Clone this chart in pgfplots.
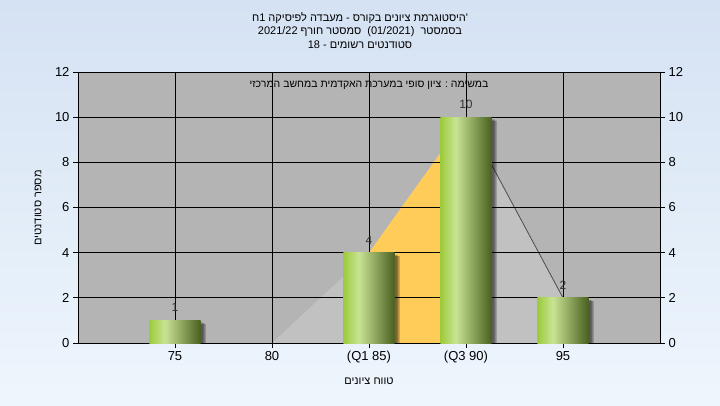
\documentclass[border=0pt]{standalone}
\usepackage{pgfplots}
\pgfplotsset{compat=1.18}
\usepackage{fontspec}
\setmainfont{Liberation Sans}
\newfontfamily\heb[Script=Hebrew]{Liberation Sans}
\TeXXeTstate=1
\definecolor{bgtop}{HTML}{D5E2F3}
\definecolor{bgbot}{HTML}{EEF6FD}
\definecolor{plotgray}{HTML}{B4B4B4}
\definecolor{areagray}{HTML}{C1C1C1}
\definecolor{areaorange}{HTML}{FFCC5A}
\definecolor{barA}{HTML}{9DCB3C}
\definecolor{barB}{HTML}{C9E394}
\definecolor{barC}{HTML}{4A6020}
\pgfdeclarehorizontalshading{barshade}{100bp}{color(0bp)=(barA); color(25bp)=(barA); color(40bp)=(barB); color(75bp)=(barC); color(100bp)=(barC)}
\begin{document}
\begin{tikzpicture}[x=1pt,y=1pt]
\shade[top color=bgtop, bottom color=bgbot] (0,0) rectangle (720,405);
\pgfplotsset{common/.style={scale only axis, width=582pt, height=271pt,
  at={(78pt,62pt)}, anchor=south west,
  xmin=-1, xmax=5, ymin=0, ymax=12, ytick={0,2,...,12}, xtick={0,...,4},
  tick align=outside, major tick length=5pt,
  axis line style={black, line width=0.9pt},
  tick style={black, line width=0.9pt},
  ticklabel style={font=\fontsize{13}{15}\selectfont},
  /pgf/number format/assume math mode=true},
  gbar/.style={ybar, bar width=51pt, bar shift=0pt, shade, shading=barshade, draw=none,
  nodes near coords, nodes near coords style={font=\fontsize{12}{14}\selectfont, text=black!80, anchor=south, yshift=5pt}},
  sbar/.style={ybar, bar width=51pt, bar shift=5pt, fill=black, fill opacity=0.3, draw=none}}
\begin{axis}[common, axis background/.style={fill=plotgray},
  grid=major, grid style={black, line width=0.9pt}, axis on top,
  tick pos=left, xticklabels={75,80,(Q1 85),(Q3 90),95}]
\addplot[fill=areagray, draw=none] coordinates {(1,0) (2,4)} \closedcycle;
\addplot[fill=areaorange, draw=none] coordinates {(2,4) (3,10)} \closedcycle;
\addplot[fill=areagray, draw=none] coordinates {(3,10) (4,2)} \closedcycle;
\addplot[draw=black!70, line width=0.8pt] coordinates {(3,10) (4,2)};
\end{axis}
\begin{axis}[common, ytick pos=right, yticklabel pos=right, xtick=\empty]
\addplot[sbar] coordinates {(0,0.85) (2,3.85) (3,9.85) (4,1.85)};
\addplot[sbar, bar shift=3pt, fill opacity=0.3] coordinates {(0,0.9) (2,3.9) (3,9.9) (4,1.9)};
\addplot[gbar] coordinates {(0,1)};
\addplot[gbar] coordinates {(2,4)};
\addplot[gbar] coordinates {(3,10)};
\addplot[gbar] coordinates {(4,2)};
\end{axis}
\node[align=center, font=\heb\fontsize{11}{13.5}\selectfont] at (360,374.5)
  {\beginR היסטוגרמת ציונים בקורס - מעבדה לפיסיקה 1ח\endR'\\
   \beginR בסמסטר \ \beginL(01/2021)\endL{}\ \ סמסטר חורף \beginL2021/22\endL\endR\\
   \beginR סטודנטים רשומים - \beginL18\endL\endR};
\node[font=\heb\fontsize{10.5}{13}\selectfont] at (369,320)
  {\beginR במשימה : ציון סופי במערכת האקדמית במחשב המרכזי\endR};
\node[font=\heb\fontsize{11}{13}\selectfont, rotate=90] at (38,197)
  {\beginR מספר סטודנטים\endR};
\node[font=\heb\fontsize{11}{13}\selectfont] at (369,24)
  {\beginR טווח ציונים\endR};
\end{tikzpicture}
\end{document}
